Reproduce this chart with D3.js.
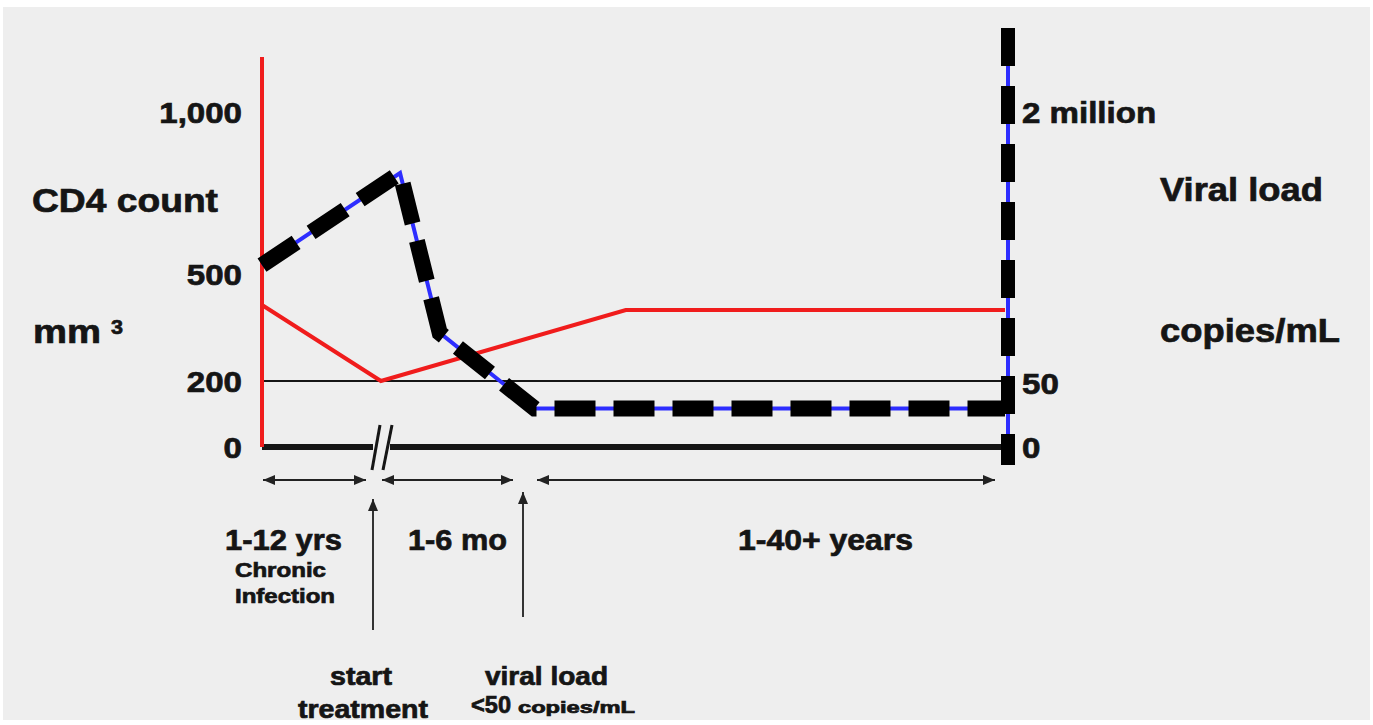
<!DOCTYPE html>
<html><head><meta charset="utf-8">
<script src="https://cdn.jsdelivr.net/npm/d3@7"></script>
<style>
html,body{margin:0;padding:0;background:#fff;}
svg{display:block;}
text{font-family:"Liberation Sans",Arial,Helvetica,sans-serif;font-weight:bold;fill:#151515;stroke:#151515;stroke-width:0.7px;}
</style>
</head><body>
<svg id="chart" width="1373" height="725"></svg>
<script>
// Time axis in phases: 0 = start of chronic infection, 1 = start treatment, 2 = viral load <50, 3 = end
const phaseTicks = [0, 1, 2, 3];
const cd4Ticks = [0, 200, 500, 1000];
const cd4TickLabels = ["0", "200", "500", "1,000"];
const vlTicks = [0, 50, 2000000];
const vlTickLabels = ["0", "50", "2 million"];
const cd4Time = [0, 1.02, 2.21, 3];
const cd4Values = [413, 200, 399, 399];
const vlTime = [0, 1.15, 1.42, 2.02, 3];
const vlValues = [870000, 1550000, 370000, 30, 30];
const spanLabels = ["1-12 yrs", "1-6 mo", "1-40+ years"];
const cd4Threshold = 200;
const cd4AxisTop = 1170;
const vlAxisTop = 2620000;

const svg = d3.select("#chart");
svg.append("rect").attr("x", 3).attr("y", 7).attr("width", 1367).attr("height", 713).attr("fill", "#eeeeee");

const x = d3.scaleLinear().domain(phaseTicks).range([262, 378, 525, 1005]);
const yCD4 = d3.scaleLinear().domain(cd4Ticks).range([447, 381, 274, 112]);
const yVL = d3.scaleLinear().domain(vlTicks).range([447, 383, 112]);

const ink = "#151515";
const red = "#f01c1c";
const blue = "#2d2dff";

// threshold line at CD4 200
svg.append("line")
  .attr("x1", x(0)).attr("x2", x(3))
  .attr("y1", yCD4(cd4Threshold)).attr("y2", yCD4(cd4Threshold))
  .attr("stroke", ink).attr("stroke-width", 2);

// baseline with break at phase 1
const y0 = yCD4(0);
svg.append("line").attr("x1", x(0)).attr("x2", x(1) - 5).attr("y1", y0).attr("y2", y0)
  .attr("stroke", ink).attr("stroke-width", 6);
svg.append("line").attr("x1", x(1) + 12).attr("x2", x(3)).attr("y1", y0).attr("y2", y0)
  .attr("stroke", ink).attr("stroke-width", 6);
[[2, -6], [14, 5]].forEach(([a, b]) => {
  svg.append("line")
    .attr("x1", x(1) + a).attr("y1", y0 - 22)
    .attr("x2", x(1) + b).attr("y2", y0 + 23)
    .attr("stroke", ink).attr("stroke-width", 3);
});

// red CD4 axis
svg.append("line")
  .attr("x1", x(0)).attr("x2", x(0))
  .attr("y1", yCD4(0)).attr("y2", yCD4(cd4AxisTop))
  .attr("stroke", red).attr("stroke-width", 4);

// CD4 line
const cd4Line = d3.line().x((d, i) => x(cd4Time[i])).y(d => yCD4(d));
svg.append("path").datum(cd4Values)
  .attr("d", cd4Line)
  .attr("fill", "none").attr("stroke", red).attr("stroke-width", 4)
  .attr("stroke-linejoin", "miter");

// Viral load line
const vlLine = d3.line().x((d, i) => x(vlTime[i])).y(d => yVL(d));
svg.append("path").datum(vlValues)
  .attr("d", vlLine)
  .attr("fill", "none").attr("stroke", blue).attr("stroke-width", 4);
svg.append("path").datum(vlValues)
  .attr("d", vlLine)
  .attr("fill", "none").attr("stroke", "#000").attr("stroke-width", 16)
  .attr("stroke-dasharray", "41,18").attr("stroke-linejoin", "miter");

// right viral-load axis (blue + black dashes)
const rx = x(3) + 3;
svg.append("line").attr("x1", rx).attr("x2", rx)
  .attr("y1", yVL(0) + 18).attr("y2", yVL(vlAxisTop))
  .attr("stroke", blue).attr("stroke-width", 4);
svg.append("line").attr("x1", rx).attr("x2", rx)
  .attr("y1", yVL(vlAxisTop)).attr("y2", yVL(0) + 18)
  .attr("stroke", "#000").attr("stroke-width", 14)
  .attr("stroke-dasharray", "38,20");

// axes tick labels
function stretch(sel, f) {
  sel.each(function () {
    const w = this.getComputedTextLength();
    d3.select(this).attr("textLength", w * f).attr("lengthAdjust", "spacingAndGlyphs");
  });
}
const leftAxis = svg.append("g").attr("transform", `translate(${x(0)},0)`)
  .call(d3.axisLeft(yCD4).tickValues(cd4Ticks).tickFormat((d, i) => cd4TickLabels[i]).tickSize(0).tickPadding(20));
leftAxis.select(".domain").remove();
leftAxis.attr("font-family", null).attr("font-size", null);
leftAxis.selectAll("text").attr("font-size", 29).attr("fill", ink).attr("dy", "0.36em");
stretch(leftAxis.selectAll("text"), 1.14);

const rightAxis = svg.append("g").attr("transform", `translate(${rx},0)`)
  .call(d3.axisRight(yVL).tickValues(vlTicks).tickFormat((d, i) => vlTickLabels[i]).tickSize(0).tickPadding(14));
rightAxis.select(".domain").remove();
rightAxis.attr("font-family", null).attr("font-size", null);
rightAxis.selectAll("text").attr("font-size", 29).attr("fill", ink).attr("dy", "0.36em");
stretch(rightAxis.selectAll("text"), 1.14);

// labels
function label(str, lx, ly, size, width) {
  return svg.append("text").attr("x", lx).attr("y", ly).attr("font-size", size)
    .attr("textLength", width).attr("lengthAdjust", "spacingAndGlyphs").text(str);
}
label("CD4 count", 32, 212, 33, 186);
label("mm", 33, 343, 33, 68);
label("3", 111, 334, 21, 12);
label("Viral load", 1160, 201, 33, 163);
label("copies/mL", 1160, 342, 33, 180);

label(spanLabels[0], 225, 550, 30, 117);
label("Chronic", 235, 577, 20, 91);
label("Infection", 235, 603, 20, 100);
label(spanLabels[1], 408, 550, 30, 99);
label(spanLabels[2], 738, 550, 30, 175);
label("start", 330, 685, 25, 62);
label("treatment", 298, 718, 25, 130);
label("viral load", 485, 685, 25, 123);
label("<50", 471, 713, 24, 40);
label("copies/mL", 518, 713, 16, 117);

// arrows
const defs = svg.append("defs");
defs.append("marker").attr("id", "ah").attr("viewBox", "0 0 12 10")
  .attr("refX", 12).attr("refY", 5).attr("markerWidth", 12).attr("markerHeight", 10)
  .attr("markerUnits", "userSpaceOnUse").attr("orient", "auto-start-reverse")
  .append("path").attr("d", "M0,0 L12,5 L0,10 Z").attr("fill", "#222");

const ay = 480;
const spans = [[x(0) + 1, x(1) - 12], [x(1) + 4, x(2) - 12], [x(2) + 12, x(3) - 10]];
spans.forEach(([a, b]) => {
  svg.append("line").attr("x1", a).attr("x2", b).attr("y1", ay).attr("y2", ay)
    .attr("stroke", "#222").attr("stroke-width", 2)
    .attr("marker-start", "url(#ah)").attr("marker-end", "url(#ah)");
});
[[x(1) - 5, 630, 499], [x(2) - 2, 617, 492]].forEach(([vx, yb, yt]) => {
  svg.append("line").attr("x1", vx).attr("x2", vx).attr("y1", yb).attr("y2", yt)
    .attr("stroke", "#333").attr("stroke-width", 2)
    .attr("marker-end", "url(#ah)");
});
</script>
</body></html>
